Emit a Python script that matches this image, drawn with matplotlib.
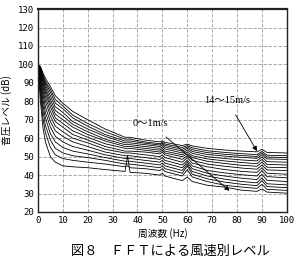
import numpy as np
import matplotlib
matplotlib.use('Agg')
import matplotlib.pyplot as plt

freqs = [0, 1, 2, 3, 5, 7, 10, 14, 20, 27, 35, 36, 37, 43, 49, 50, 51,
         58, 60, 62, 68, 75, 82, 88, 90, 92, 100]

# sound pressure level (dB) per wind speed class, 0~1 m/s ... 14~15 m/s
lv00 = [100, 80, 66, 58, 50, 47, 45, 44.5, 44, 43, 42, 50.5, 41.5, 41, 40, 41, 39.5, 37, 39, 36.5, 34.5, 33.5, 31.8, 31.2, 32.5, 30.8, 30.2]
lv01 = [100, 84, 71, 63, 55, 51, 49, 48, 47, 46, 44.5, 45, 44, 43.5, 42.5, 43.5, 42, 39.5, 43, 39, 36.5, 34.5, 33.5, 32.8, 35, 32.3, 31.7]
lv02 = [100, 87, 75, 67, 59, 54.5, 52, 50.5, 49.5, 48, 46, 46, 46, 45, 44, 45, 43.5, 41, 45, 40.5, 38, 36.2, 35, 34.3, 37, 33.8, 33.2]
lv03 = [100, 89, 78, 71, 62.5, 58, 55, 53, 51.5, 49.5, 47.5, 47.5, 47.5, 46.5, 45.5, 46.5, 45, 42.5, 46, 42, 39.5, 37.8, 36.5, 35.8, 38.5, 35.3, 34.7]
lv04 = [100, 91, 81, 74, 66, 61, 58, 55.5, 53.5, 51, 49, 49, 49, 48, 47, 48, 46.5, 44, 47, 43.5, 41, 39.5, 38.3, 37.6, 40.5, 37.2, 36.5]
lv05 = [100, 92.5, 84, 77, 69, 64, 61, 58, 55.5, 52.5, 50.5, 50.5, 50.5, 49.5, 48.5, 49.5, 48, 45.5, 48, 45, 42.5, 41.2, 40.2, 39.5, 42.5, 39.2, 38.5]
lv06 = [100, 94, 86, 80, 72, 66.5, 63.5, 60, 57.5, 54, 52, 52, 52, 51, 50, 51, 49.5, 47, 49.5, 46.5, 44.5, 43, 42, 41.5, 44, 41, 40.5]
lv07 = [100, 95, 88, 82.5, 74.5, 69, 66, 62, 59, 55.5, 53, 53, 53, 52.5, 51.5, 52.5, 51, 48.5, 50.5, 48, 46, 44.8, 43.8, 43.2, 45.5, 42.8, 42.5]
lv08 = [100, 96, 90, 84.5, 77, 71, 68, 64, 60.5, 57, 54.5, 54.5, 54.5, 53.5, 52.5, 53.5, 52, 50, 51.5, 49.5, 47.5, 46.3, 45.3, 44.8, 47, 44.3, 44]
lv09 = [100, 96.5, 91, 86, 79, 73, 70, 66, 62, 58.5, 55.5, 55.5, 55.5, 54.5, 53.5, 54.5, 53, 51, 52.5, 50.5, 48.8, 47.7, 46.8, 46.2, 48.5, 45.8, 45.5]
lv10 = [100, 97, 92, 87.5, 81, 75, 72, 67.5, 63.5, 59.5, 56.5, 56.5, 56.5, 55.5, 54.5, 55.5, 54.2, 52, 53.5, 51.8, 50, 49, 48.2, 47.7, 49.8, 47.3, 47]
lv11 = [100, 97.5, 93, 89, 83, 77, 74, 69, 65, 61, 57.5, 57.5, 57.5, 56.5, 55.5, 56.5, 55.2, 53, 54.5, 52.8, 51.2, 50.3, 49.6, 49.1, 51, 48.8, 48.5]
lv12 = [100, 98, 94, 90, 85, 79, 76, 71, 66.5, 62, 58.5, 58.5, 58.5, 57.3, 56.3, 57.3, 56.1, 54, 55.3, 53.8, 52.2, 51.3, 50.6, 50.1, 52, 49.8, 49.5]
lv13 = [100, 98.5, 94.5, 91, 86.5, 81, 77.5, 72.5, 68, 63.5, 59.5, 59.5, 59.5, 58, 57, 57.8, 56.9, 55, 56, 54.8, 53.2, 52.3, 51.6, 51.1, 52.8, 50.8, 50.5]
lv14 = [100, 99, 95.5, 92.5, 88, 83, 79, 74.5, 70, 65, 60.5, 60.5, 60.5, 59, 58, 58.6, 57.8, 56, 56.8, 55.8, 54.5, 53.6, 53, 52.6, 54, 52.3, 52]

levels = [lv00, lv01, lv02, lv03, lv04, lv05, lv06, lv07,
          lv08, lv09, lv10, lv11, lv12, lv13, lv14]

xticks = list(range(0, 101, 10))
yticks = list(range(20, 131, 10))

jp = ['Noto Sans CJK JP', 'DejaVu Sans']
serif = ['Liberation Serif', 'Noto Sans CJK JP']

fig = plt.figure(figsize=(3.01, 2.67), dpi=100)
ax = fig.add_axes([0.126, 0.206, 0.827, 0.76])

for lv in levels:
   ax.plot(freqs, lv, color='black', lw=0.6)

ax.set_xlim(0, 100)
ax.set_ylim(20, 130)
ax.set_xticks(xticks)
ax.set_yticks(yticks)
ax.tick_params(length=0, labelsize=6.5, pad=3)
for lab in ax.get_xticklabels() + ax.get_yticklabels():
   lab.set_family('DejaVu Sans Mono')
ax.grid(True, ls=(0, (4, 2)), color='#999999', lw=0.6)
for s in ax.spines.values():
   s.set_linewidth(1.0)
   s.set_color('#222222')
ax.spines['top'].set_linewidth(1.6)

ax.set_xlabel('周波数 (Hz)', family=jp, fontsize=7, labelpad=2)
ax.set_ylabel('音圧レベル (dB)', family=jp, fontsize=7, labelpad=4)

# wind speed annotations
ax.annotate('14～15m/s', xy=(88, 53), xytext=(76, 80.5), family=serif,
            fontsize=7.5, ha='center', va='center',
            arrowprops=dict(arrowstyle='-|>', color='black', lw=0.6,
                            mutation_scale=7, shrinkA=6, shrinkB=0))
ax.annotate('0～1m/s', xy=(77, 31.5), xytext=(45, 68), family=serif,
            fontsize=7.5, ha='center', va='center',
            arrowprops=dict(arrowstyle='-|>', color='black', lw=0.6,
                            mutation_scale=7, shrinkA=7, shrinkB=0))

fig.text(0.565, 0.057, '図８　ＦＦＴによる風速別レベル', family=jp,
         fontsize=9.5, ha='center', va='center')

fig.savefig('out.png', dpi=100)
